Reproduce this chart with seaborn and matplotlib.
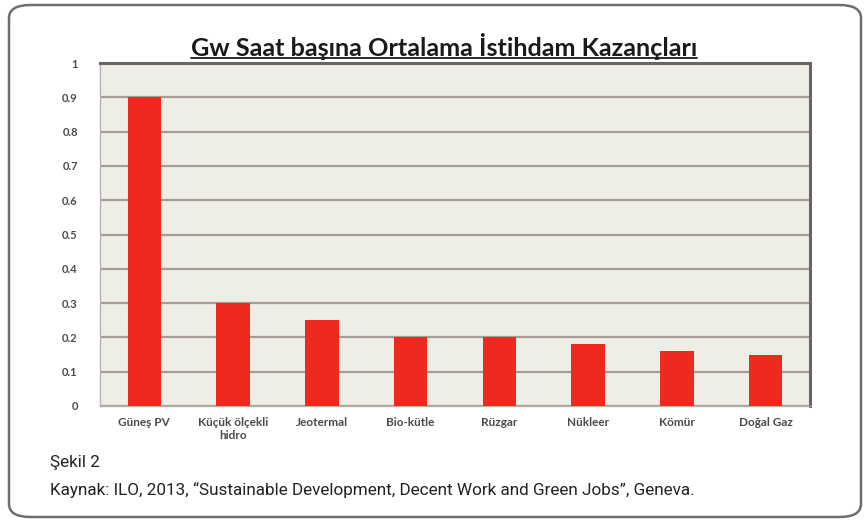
import matplotlib
matplotlib.use('Agg')
import matplotlib.pyplot as plt
import seaborn as sns
import pandas as pd
from matplotlib.patches import FancyBboxPatch
from matplotlib.lines import Line2D

# veriler
kaynaklar = ['Güneş PV', 'Küçük ölçekli\nhidro', 'Jeotermal', 'Bio-kütle',
             'Rüzgar', 'Nükleer', 'Kömür', 'Doğal Gaz']
degerler = [0.9, 0.3, 0.25, 0.2, 0.2, 0.18, 0.16, 0.15]
y_ticks = [0, 0.1, 0.2, 0.3, 0.4, 0.5, 0.6, 0.7, 0.8, 0.9, 1]
y_tick_labels = ['0', '0.1', '0.2', '0.3', '0.4', '0.5', '0.6', '0.7', '0.8', '0.9', '1']

baslik = 'Gw Saat başına Ortalama İstihdam Kazançları'
sekil = 'Şekil 2'
kaynak_notu = 'Kaynak: ILO, 2013, “Sustainable Development, Decent Work and Green Jobs”, Geneva.'

df = pd.DataFrame({'kaynak': kaynaklar, 'deger': degerler})

sns.set_style('white')
plt.rcParams['font.family'] = ['Lato', 'DejaVu Sans']

W, H = 866, 521
fig = plt.figure(figsize=(W / 100, H / 100), dpi=100)
fig.patch.set_facecolor('white')


def fit_width(txt, target_px):
    # yazı genişliğini hedef piksele göre ayarla
    r = fig.canvas.get_renderer()
    w = txt.get_window_extent(renderer=r).width
    txt.set_fontsize(txt.get_fontsize() * target_px / w)


# dış çerçeve (yuvarlak köşeli)
cerceve = FancyBboxPatch((9 / W, 4 / H), 852 / W, 512 / H,
                         boxstyle='round,pad=0,rounding_size=0.025',
                         transform=fig.transFigure, facecolor='none',
                         edgecolor='#6e6e6e', linewidth=1.8, zorder=0)
fig.patches.append(cerceve)

ax = fig.add_axes([100 / W, 1 - 406 / H, 710 / W, 343 / H])
ax.set_facecolor('#efeee6')

sns.barplot(data=df, x='kaynak', y='deger', color='#ee2a1e', width=0.38,
            saturation=1, linewidth=0, edgecolor='none', ax=ax, zorder=3)

ax.set_ylim(0, 1)
ax.set_xlim(-0.5, len(kaynaklar) - 0.5)
ax.set_yticks(y_ticks)
ax.set_yticklabels(y_tick_labels, fontweight='bold')
ax.set_xticks(range(len(kaynaklar)))
ax.set_xticklabels(kaynaklar, fontweight='bold', multialignment='center')
ax.yaxis.grid(True, color='#a59d95', linewidth=1.6, zorder=1)
ax.set_axisbelow(True)

for side in ['top', 'right']:
    ax.spines[side].set_color('#6a6460')
    ax.spines[side].set_linewidth(2.2)
for side in ['left', 'bottom']:
    ax.spines[side].set_color('#b8b2ac')
    ax.spines[side].set_linewidth(1.0)

ax.tick_params(axis='x', length=0, labelsize=8.5, labelcolor='#4a4a4a', pad=8)
ax.tick_params(axis='y', length=0, labelsize=8, labelcolor='#4a4a4a', pad=16)
ax.set_xlabel('')
ax.set_ylabel('')

# başlık
t = fig.text(444 / W, 1 - 56 / H, baslik, fontsize=15, fontweight='bold',
             color='#1a1a1a', ha='center', va='baseline')
fit_width(t, 508)
bb = t.get_window_extent(renderer=fig.canvas.get_renderer())
fig.lines.append(Line2D([bb.x0 / W, bb.x1 / W], [(H - 58) / H, (H - 58) / H],
                        transform=fig.transFigure, color='#1a1a1a', linewidth=1.3))

cap_font = ['Roboto', 'DejaVu Sans']
t1 = fig.text(50 / W, 1 - 462 / H, sekil, fontsize=12.5, color='#222222',
              family=cap_font, va='center')
t2 = fig.text(50 / W, 1 - 490 / H, kaynak_notu, fontsize=12.5, color='#222222',
              family=cap_font, va='center')
fit_width(t2, 645)
t1.set_fontsize(t2.get_fontsize())

fig.savefig('out.png', dpi=100)
